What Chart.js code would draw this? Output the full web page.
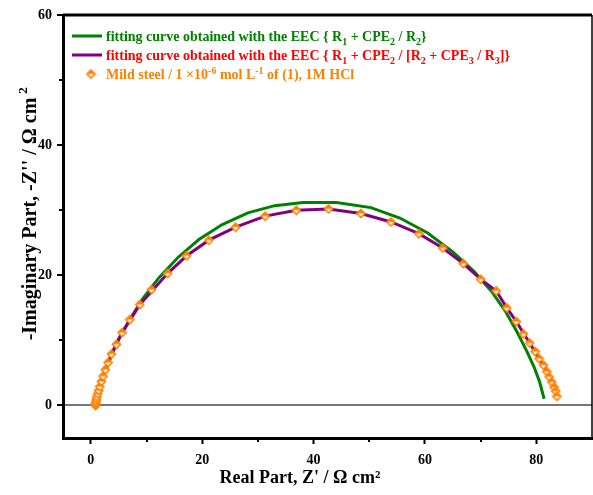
<!DOCTYPE html>
<html>
<head>
<meta charset="utf-8">
<script src="https://cdn.jsdelivr.net/npm/chart.js@4/dist/chart.umd.min.js"></script>
<style>
    html, body { margin: 0; padding: 0; background: #fff; overflow: hidden; }
    #wrap { width: 593px; height: 495px; position: relative; }
    #nyquist { display: block; }
</style>
</head>
<body>
<div id="wrap"><canvas id="nyquist"></canvas></div>
<script>
// ============================================================
// Data: Nyquist plot, mild steel in 1M HCl
// ============================================================

// measured points (Z', -Z'')
const EXP_RE = [0.85, 0.86, 0.88, 0.9, 0.95, 1.0, 1.1, 1.25, 1.4, 1.6, 1.9, 2.2, 2.6, 3.1, 3.7,
                4.6, 5.6, 7.0, 8.8, 10.9, 13.8, 17.2, 21.2, 26.0, 31.3, 36.9, 42.7, 48.5, 53.9,
                58.9, 63.2, 66.9, 70.0, 72.8, 74.7, 76.4, 77.7, 78.8, 79.8, 80.5, 81.3, 81.9,
                82.3, 82.8, 83.2, 83.5, 83.7];
const EXP_IM = [0.0, 0.1, 0.25, 0.45, 0.7, 1.0, 1.35, 1.8, 2.3, 2.9, 3.7, 4.5, 5.5, 6.6, 7.9,
                9.4, 11.2, 13.2, 15.5, 17.8, 20.3, 23.0, 25.4, 27.4, 29.1, 30.0, 30.2, 29.5, 28.2,
                26.4, 24.2, 21.8, 19.4, 17.6, 15.0, 12.9, 11.0, 9.6, 8.3, 7.2, 6.2, 5.2,
                4.4, 3.6, 2.8, 2.2, 1.4];

// fit R1 + CPE2 / R2
const FIT1_RE = [0.85, 0.95, 1.2, 1.7, 2.5, 3.6, 5.0, 7.0, 9.3, 12.2, 15.6, 19.4, 23.6, 28.2,
                 33.0, 38.1, 44.1, 50.3, 55.5, 60.5, 65.0, 68.8, 71.9, 74.5, 76.6, 78.3, 79.6,
                 80.6, 81.4];
const FIT1_IM = [0.0, 0.8, 1.8, 3.2, 5.0, 7.5, 10.2, 13.2, 16.4, 19.6, 22.7, 25.5, 27.8, 29.6,
                 30.7, 31.2, 31.2, 30.4, 28.8, 26.5, 23.6, 20.6, 17.6, 14.4, 11.2, 8.3, 5.9,
                 3.6, 1.0];

// fit R1 + CPE2 / [R2 + CPE3 / R3]
const FIT2_RE = [0.85, 0.95, 1.25, 1.9, 2.6, 3.7, 5.6, 8.8, 13.8, 17.2, 21.2, 26.0, 31.3, 36.9,
                 42.7, 48.5, 53.9, 58.9, 63.2, 66.9, 70.0, 72.8, 74.7, 76.4, 78.8, 80.5, 81.9,
                 82.8, 83.5, 83.7];
const FIT2_IM = [0.0, 0.7, 1.8, 3.7, 5.5, 7.9, 11.2, 15.5, 20.3, 23.0, 25.4, 27.4, 29.1, 30.0,
                 30.2, 29.5, 28.2, 26.4, 24.2, 21.8, 19.4, 17.6, 15.0, 12.9, 9.6, 7.2, 5.2,
                 3.6, 2.2, 1.4];

const X_MIN = -5, X_MAX = 90;
const Y_MIN = -5, Y_MAX = 60;
const MINOR_X = [10, 30, 50, 70];
const MINOR_Y = [10, 30, 50];

const GREEN = '#008000';
const PURPLE = '#800080';
const ORANGE = '#ff8000';
const SERIF = '"Liberation Serif", "Times New Roman", serif';

// legend rows, split into normal / sub / sup runs
const LEGEND_ROWS = [
    { color: GREEN, kind: 'line', lineColor: GREEN, runs: [
        ['fitting curve obtained with the EEC { R'], ['1', 'sub'], [' + CPE'], ['2', 'sub'],
        [' / R'], ['2', 'sub'], ['}']
    ]},
    { color: '#ff0000', kind: 'line', lineColor: PURPLE, runs: [
        ['fitting curve obtained with the EEC { R'], ['1', 'sub'], [' + CPE'], ['2', 'sub'],
        [' / [R'], ['2', 'sub'], [' + CPE'], ['3', 'sub'], [' / R'], ['3', 'sub'], [']}']
    ]},
    { color: ORANGE, kind: 'marker', runs: [
        ['Mild steel / 1 \u00d710'], ['-6', 'sup'], [' mol L'], ['-1', 'sup'], [' of (1), 1M HCl']
    ]}
];

function toPoints(xs, ys) {
    return xs.map((x, i) => ({ x: x, y: ys[i] }));
}

// half-filled diamond marker
function makeDiamond(size) {
    const c = document.createElement('canvas');
    const s = size + 3;
    c.width = s; c.height = s;
    const g = c.getContext('2d');
    const m = s / 2, r = size / 2;
    g.beginPath();
    g.moveTo(m, m - r); g.lineTo(m + r, m); g.lineTo(m, m + r); g.lineTo(m - r, m); g.closePath();
    g.fillStyle = '#fff';
    g.fill();
    g.beginPath();
    g.moveTo(m, m - r); g.lineTo(m + r, m); g.lineTo(m - r, m); g.closePath();
    g.fillStyle = ORANGE;
    g.fill();
    g.beginPath();
    g.moveTo(m, m - r); g.lineTo(m + r, m); g.lineTo(m, m + r); g.lineTo(m - r, m); g.closePath();
    g.strokeStyle = ORANGE;
    g.lineWidth = 1.6;
    g.stroke();
    return c;
}
const DIAMOND = makeDiamond(8);

// ============================================================
// Plugins: frame, minor ticks, titles, legend
// ============================================================

function drawRuns(ctx, runs, x, y, size) {
    runs.forEach(([text, mode]) => {
        let dy = 0, fs = size;
        if (mode === 'sub') { fs = Math.round(size * 0.68); dy = 4; }
        if (mode === 'sup') { fs = Math.round(size * 0.68); dy = -5; }
        ctx.font = 'bold ' + fs + 'px ' + SERIF;
        ctx.fillText(text, x, y + dy);
        x += ctx.measureText(text).width;
    });
}

const decorPlugin = {
    id: 'decor',
    afterDraw(chart) {
        const ctx = chart.ctx;
        const area = chart.chartArea;
        const xs = chart.scales.x, ys = chart.scales.y;
        ctx.save();

        // top and right frame
        ctx.strokeStyle = '#000';
        ctx.lineWidth = 3;
        ctx.beginPath();
        ctx.moveTo(area.left, area.top);
        ctx.lineTo(area.right, area.top);
        ctx.stroke();
        ctx.lineWidth = 1.5;
        ctx.beginPath();
        ctx.moveTo(area.right, area.top);
        ctx.lineTo(area.right, area.bottom);
        ctx.stroke();

        // minor ticks
        ctx.lineWidth = 2;
        MINOR_X.forEach(v => {
            const px = Math.round(xs.getPixelForValue(v));
            ctx.beginPath();
            ctx.moveTo(px, area.bottom);
            ctx.lineTo(px, area.bottom + 4);
            ctx.stroke();
        });
        MINOR_Y.forEach(v => {
            const py = Math.round(ys.getPixelForValue(v));
            ctx.beginPath();
            ctx.moveTo(area.left, py);
            ctx.lineTo(area.left - 4, py);
            ctx.stroke();
        });

        // axis titles
        ctx.fillStyle = '#000';
        ctx.textBaseline = 'alphabetic';
        ctx.textAlign = 'center';
        ctx.font = 'bold 18px ' + SERIF;
        ctx.fillText('Real Part, Z\' / \u03a9 cm\u00b2', 300, 483);

        // y title with a detached superscript
        ctx.save();
        ctx.translate(36, 213);
        ctx.rotate(-Math.PI / 2);
        ctx.textAlign = 'left';
        const yMain = '-Imaginary Part, -Z\'\' / \u03a9 cm';
        ctx.font = 'bold 20px ' + SERIF;
        const wMain = ctx.measureText(yMain).width;
        const total = wMain + 12;
        ctx.fillText(yMain, -total / 2, 0);
        ctx.font = 'bold 13px ' + SERIF;
        ctx.fillText('2', -total / 2 + wMain + 4, -9);
        ctx.restore();

        // legend
        ctx.textAlign = 'left';
        ctx.textBaseline = 'alphabetic';
        const rowY = [36, 55, 74];
        LEGEND_ROWS.forEach((row, i) => {
            const y = rowY[i];
            if (row.kind === 'line') {
                ctx.strokeStyle = row.lineColor;
                ctx.lineWidth = 3;
                ctx.beginPath();
                ctx.moveTo(72, y);
                ctx.lineTo(102, y);
                ctx.stroke();
            } else {
                ctx.drawImage(DIAMOND, 91 - DIAMOND.width / 2, y - DIAMOND.height / 2);
            }
            ctx.fillStyle = row.color;
            drawRuns(ctx, row.runs, 106, y + 5, 14);
        });

        ctx.restore();
    }
};

// ============================================================
// Chart
// ============================================================

const tickFont = { family: SERIF, size: 14, weight: 'bold' };

new Chart(document.getElementById('nyquist'), {
    type: 'scatter',
    data: {
        datasets: [
            {
                label: 'Mild steel',
                data: toPoints(EXP_RE, EXP_IM),
                showLine: false,
                pointStyle: DIAMOND,
                pointRadius: 5,
                order: 0
            },
            {
                label: 'R1 + CPE2 / [R2 + CPE3 / R3]',
                data: toPoints(FIT2_RE, FIT2_IM),
                showLine: true,
                borderColor: PURPLE,
                borderWidth: 3,
                pointRadius: 0,
                tension: 0,
                order: 1
            },
            {
                label: 'R1 + CPE2 / R2',
                data: toPoints(FIT1_RE, FIT1_IM),
                showLine: true,
                borderColor: GREEN,
                borderWidth: 3,
                pointRadius: 0,
                tension: 0,
                order: 2
            }
        ]
    },
    options: {
        responsive: true,
        maintainAspectRatio: false,
        animation: false,
        layout: { autoPadding: false, padding: { top: 15, right: 1, left: 0, bottom: 0 } },
        plugins: {
            legend: { display: false },
            tooltip: { enabled: false }
        },
        scales: {
            x: {
                type: 'linear',
                min: X_MIN,
                max: X_MAX,
                afterFit: scale => {
                    scale.height = 57;
                    scale.paddingLeft = 0;
                    scale.paddingRight = 0;
                },
                border: { display: true, color: '#000', width: 3 },
                grid: {
                    drawOnChartArea: false,
                    tickLength: 6,
                    tickWidth: 2,
                    tickColor: ctx => (ctx.tick && ctx.tick.value % 20 === 0) ? '#000' : 'rgba(0,0,0,0)'
                },
                ticks: {
                    stepSize: 20,
                    autoSkip: false,
                    maxRotation: 0,
                    padding: 8,
                    color: '#000',
                    font: tickFont,
                    callback: v => (v % 20 === 0 ? v : '')
                }
            },
            y: {
                type: 'linear',
                min: Y_MIN,
                max: Y_MAX,
                afterFit: scale => {
                    scale.width = 63;
                    scale.paddingTop = 0;
                    scale.paddingBottom = 0;
                },
                border: { display: true, color: '#000', width: 3 },
                grid: {
                    drawOnChartArea: true,
                    color: ctx => (ctx.tick && ctx.tick.value === 0) ? '#777' : 'rgba(0,0,0,0)',
                    lineWidth: 2,
                    tickLength: 6,
                    tickWidth: 2,
                    tickColor: ctx => (ctx.tick && ctx.tick.value % 20 === 0) ? '#000' : 'rgba(0,0,0,0)'
                },
                ticks: {
                    stepSize: 20,
                    autoSkip: false,
                    padding: 5,
                    color: '#000',
                    font: tickFont,
                    callback: v => (v % 20 === 0 ? v : '')
                }
            }
        }
    },
    plugins: [decorPlugin]
});
</script>
</body>
</html>
